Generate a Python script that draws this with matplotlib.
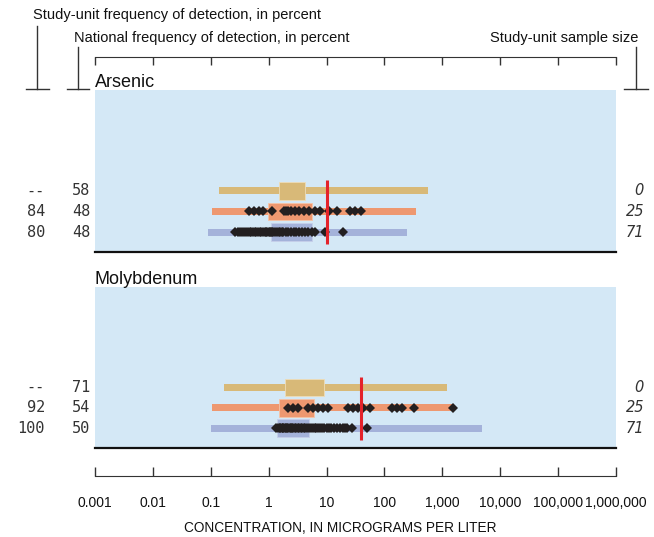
import matplotlib
matplotlib.use('Agg')
import matplotlib.pyplot as plt
from matplotlib import transforms
from matplotlib.lines import Line2D

plt.rcParams['font.family'] = ['Liberation Sans', 'DejaVu Sans']

# ---------------------------------------------------------------------------
# data
# ---------------------------------------------------------------------------
decade_ticks = [0.001, 0.01, 0.1, 1, 10, 100, 1000, 10000, 100000, 1000000]
decade_labels = ['0.001', '0.01', '0.1', '1', '10', '100', '1,000',
                 '10,000', '100,000', '1,000,000']

constituents = ['Arsenic', 'Molybdenum']
benchmarks = [10, 40]

study_freq = [['--', '84', '80'], ['--', '92', '100']]
national_freq = [['58', '48', '48'], ['71', '54', '50']]
sample_size = [['0', '25', '71'], ['0', '25', '71']]

# whisker range (min, max) and box (25th, 75th) per row: national, domestic, public
arsenic_range = [(0.14, 570), (0.107, 348), (0.088, 247)]
arsenic_box = [(1.52, 4.2), (0.99, 5.6), (1.11, 5.6)]
moly_range = [(0.17, 1190), (0.106, 1550), (0.10, 4780)]
moly_box = [(1.94, 9.0), (1.52, 6.1), (1.41, 5.0)]

arsenic_domestic = [0.46, 0.56, 0.69, 0.81, 1.15, 1.86, 2.0, 2.18, 2.46, 2.9,
                    3.4, 4.0, 5.0, 6.4, 7.8, 11.2, 15.4, 25.8, 31.5, 40]
arsenic_public = [0.26, 0.29, 0.32, 0.35, 0.38, 0.41, 0.44, 0.47, 0.5, 0.53,
                  0.57, 0.6, 0.65, 0.7, 0.75, 0.8, 0.85, 0.9, 0.95, 1.0,
                  1.05, 1.1, 1.15, 1.2, 1.3, 1.4, 1.5, 1.6, 1.7, 1.8, 2.0,
                  2.2, 2.4, 2.7, 3.0, 3.3, 3.7, 4.2, 4.8, 5.5, 6.3, 9.4, 19.2]
moly_domestic = [2.18, 2.67, 3.25, 4.84, 5.9, 7.2, 8.8, 10.7, 23.8, 29.1,
                 35.5, 43.3, 57.3, 137, 168, 205, 318, 1500]
moly_public = [1.35, 1.45, 1.55, 1.6, 1.7, 1.75, 1.8, 1.9, 2.0, 2.1, 2.2,
               2.3, 2.4, 2.5, 2.6, 2.8, 3.0, 3.2, 3.4, 3.6, 3.8, 4.0, 4.3,
               4.6, 5.0, 5.4, 5.8, 6.2, 6.7, 7.2, 7.8, 8.4, 9.0, 10, 11, 12,
               13.5, 15, 17, 19, 21, 22.5, 27.5, 50]

ranges = [arsenic_range, moly_range]
boxes = [arsenic_box, moly_box]
points = [[None, arsenic_domestic, arsenic_public],
          [None, moly_domestic, moly_public]]

# ---------------------------------------------------------------------------
# styling
# ---------------------------------------------------------------------------
W, H = 654, 537
row_colors = ['#D8B978', '#EE9870', '#A4B2DA']
box_edges = ['#EEDDB8', '#F6C4A8', '#C6CFEA']
bg = '#D4E8F6'
red = '#E4232B'
ink = '#333333'


def fx(px):
    return px / W


def fy(py):
    return 1 - py / H


fig = plt.figure(figsize=(W / 100, H / 100), dpi=100)

panels = [(89.5, 252), (287, 448)]
for k, (top, bottom) in enumerate(panels):
    ax = fig.add_axes([fx(95), fy(bottom), 521 / W, (bottom - top) / H])
    ax.set_facecolor(bg)
    ax.set_xscale('log')
    ax.set_xlim(0.001, 1000000)
    ax.set_ylim(2.97, -4.92)
    for s in ['top', 'left', 'right']:
        ax.spines[s].set_visible(False)
    ax.spines['bottom'].set_linewidth(1.6)
    ax.spines['bottom'].set_color('#111111')
    ax.set_xticks([])
    ax.set_xticks([], minor=True)
    ax.set_yticks([])

    for i in range(3):
        lo, hi = ranges[k][i]
        q1, q3 = boxes[k][i]
        ax.barh(i, hi - lo, left=lo, height=0.34, color=row_colors[i],
                edgecolor='none', zorder=2)
        ax.barh(i, q3 - q1, left=q1, height=0.86, color=row_colors[i],
                edgecolor=box_edges[i], linewidth=0.6, zorder=3)
        if points[k][i] is not None:
            ax.plot(points[k][i], [i] * len(points[k][i]), 'D',
                    color='#231F20', ms=5.4, mew=0, zorder=5)

    ax.vlines(benchmarks[k], -0.51, 2.56, color=red, lw=2.2, zorder=6)

    ax.text(0, 1 + 2.5 / (bottom - top), constituents[k],
            transform=ax.transAxes, ha='left', va='baseline', fontsize=13,
            color='#111111')

    trans = transforms.blended_transform_factory(fig.transFigure, ax.transData)
    for i in range(3):
        fig.text(fx(45), i, study_freq[k][i], transform=trans, ha='right',
                 va='center', family='DejaVu Sans Mono', fontsize=11,
                 color=ink)
        fig.text(fx(90), i, national_freq[k][i], transform=trans, ha='right',
                 va='center', family='DejaVu Sans Mono', fontsize=11,
                 color=ink)
        fig.text(fx(644), i, sample_size[k][i], transform=trans, ha='right',
                 va='center', family='DejaVu Sans', style='italic',
                 fontsize=10.5, color=ink)

# top ruler, ticks hang down from the line
rt = fig.add_axes([fx(95), fy(57), 521 / W, 0.0001])
rt.set_xscale('log')
rt.set_xlim(0.001, 1000000)
for s in ['bottom', 'left', 'right']:
    rt.spines[s].set_visible(False)
rt.spines['top'].set_color(ink)
rt.set_yticks([])
rt.set_xticks(decade_ticks)
rt.set_xticks([], minor=True)
rt.tick_params(axis='x', top=True, bottom=False, labeltop=False,
               labelbottom=False, direction='in', length=6, width=1,
               color=ink)

# bottom ruler, ticks stand up from the line
rb = fig.add_axes([fx(95), fy(476), 521 / W, 0.0001])
rb.set_xscale('log')
rb.set_xlim(0.001, 1000000)
for s in ['top', 'left', 'right']:
    rb.spines[s].set_visible(False)
rb.spines['bottom'].set_color(ink)
rb.set_yticks([])
rb.set_xticks(decade_ticks)
rb.set_xticklabels(decade_labels, fontsize=10, color='#111111')
rb.set_xticks([], minor=True)
rb.tick_params(axis='x', direction='in', length=6.5, width=1, color=ink,
               pad=22.5)
for lab in rb.get_xticklabels():
    lab.set_verticalalignment('baseline')

fig.text(fx(340), fy(528), 'CONCENTRATION, IN MICROGRAMS PER LITER',
         ha='center', va='center', fontsize=9.8, color='#111111')

# column headers and brackets
fig.text(fx(33), fy(15), 'Study-unit frequency of detection, in percent',
         ha='left', va='center', fontsize=10.5, color='#111111')
fig.text(fx(74), fy(38), 'National frequency of detection, in percent',
         ha='left', va='center', fontsize=10.5, color='#111111')
fig.text(fx(638), fy(38), 'Study-unit sample size',
         ha='right', va='center', fontsize=10.5, color='#111111')

brackets = [(37, 26, 26, 49), (78, 47, 67, 89), (636, 47, 624, 648)]
for xv, ytop, x0, x1 in brackets:
    fig.add_artist(Line2D([fx(xv), fx(xv)], [fy(ytop), fy(89)],
                          transform=fig.transFigure, color=ink, lw=1))
    fig.add_artist(Line2D([fx(x0), fx(x1)], [fy(89), fy(89)],
                          transform=fig.transFigure, color=ink, lw=1))

fig.savefig('out.png', dpi=100)
